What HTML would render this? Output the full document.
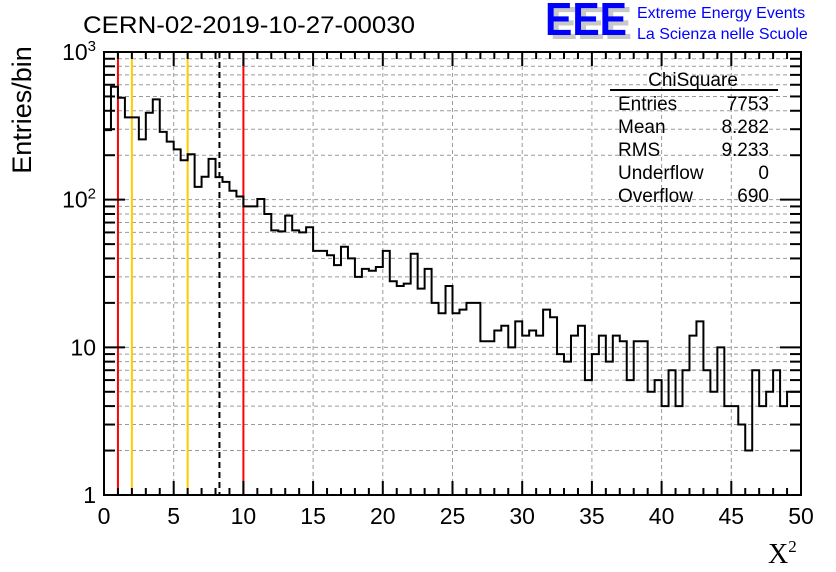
<!DOCTYPE html>
<html><head><meta charset="utf-8"><style>
html,body{margin:0;padding:0;background:#fff;}
svg{display:block;font-family:"Liberation Sans",sans-serif;}
</style></head><body>
<svg id="chart" width="836" height="572" viewBox="0 0 836 572" xmlns="http://www.w3.org/2000/svg">
<rect width="836" height="572" fill="#fff"/>
<g id="grid"></g>
<g id="vlines"></g>
<path id="hist" fill="none" stroke="#000" stroke-width="2"/>
<rect x="104" y="52" width="697" height="443" fill="none" stroke="#000" stroke-width="2"/>
<g id="ticks"></g>
<g id="labels" font-size="23"></g>
<text x="83" y="33" font-size="24" textLength="332" lengthAdjust="spacingAndGlyphs">CERN-02-2019-10-27-00030</text>
<text transform="translate(31,110) rotate(-90)" text-anchor="middle" font-size="27">Entries/bin</text>
<text x="768" y="563" font-size="28" font-family="Liberation Serif,serif">X<tspan font-size="17" dy="-11">2</tspan></text>
<g>
<text x="550" y="39" font-size="46" font-weight="bold" fill="#c8c8c8" textLength="82" lengthAdjust="spacingAndGlyphs">EEE</text>
<text x="545" y="35" font-size="46" font-weight="bold" fill="#0000ff" textLength="82" lengthAdjust="spacingAndGlyphs">EEE</text>
<text x="637" y="18" font-size="16" fill="#0000ff">Extreme Energy Events</text>
<text x="637" y="39" font-size="16" fill="#0000ff">La Scienza nelle Scuole</text>
</g>
<g font-size="19">
<text x="693" y="86" text-anchor="middle">ChiSquare</text>
<line x1="610" y1="90" x2="778" y2="90" stroke="#000" stroke-width="2"/>
<text x="618" y="110">Entries</text><text x="769" y="110" text-anchor="end">7753</text>
<text x="618" y="133">Mean</text><text x="769" y="133" text-anchor="end">8.282</text>
<text x="618" y="156">RMS</text><text x="769" y="156" text-anchor="end">9.233</text>
<text x="618" y="179">Underflow</text><text x="769" y="179" text-anchor="end">0</text>
<text x="618" y="202">Overflow</text><text x="769" y="202" text-anchor="end">690</text>
</g>
</svg>
<script>
const binEdgesStart = [0];
const binWidth = [0.5];
const counts = [296,582,490,361,361,256,388,478,288,247,219,185,203,122,143,189,142,132,115,105,
90,90,101,80,62,61,78,62,60,65,45,45,42,36,48,40,30,34,33,35,
45,28,26,27,43,25,34,20,17,26,17,18,20,20,11,11,13,14,10,15,
12,13,12,18,16,9,8,12,14,6,9,12,8,12,11,6,11,11,5,6,
4,7,4,7,12,15,7,5,10,4,4,3,2,7,4,5,7,4,5,5];
const xTicks = [0,5,10,15,20,25,30,35,40,45,50];
const yTicks = [1,10,100,1000];
const yTickLabels = ["1","10","10²","10³"];
const markerLines = [1,2,6,10];
const markerColors = ["#ff0000","#ffcc00","#ffcc00","#ff0000"];
const meanValue = [8.282];

const X0=104,X1=801,Y0=495,Y1=52;
const xs = v => X0 + (v-0)/(50-0)*(X1-X0);
const ys = v => Y0 - Math.log10(v)/3*(Y0-Y1);
const NS="http://www.w3.org/2000/svg";
function mk(tag, parent, attrs){const e=document.createElementNS(NS,tag);for(const k in attrs)e.setAttribute(k,attrs[k]);document.getElementById(parent).appendChild(e);return e;}

for(const t of xTicks){ if(t===0||t===50) continue;
  const l=mk('line','grid',{x1:xs(t),x2:xs(t),y1:Y1,y2:Y0,stroke:'#9a9a9a','stroke-dasharray':'4,3','stroke-width':1});
  
  
}
for(let d=0; d<3; d++) for(let m=1;m<10;m++){ const v=m*Math.pow(10,d); if(v<=1) continue;
  const l=mk('line','grid',{x1:X0,x2:X1,y1:ys(v),y2:ys(v),stroke:'#9a9a9a','stroke-dasharray':'4,3','stroke-width':1});
  
  
}
markerLines.forEach((v,i)=>{
  const l=mk('line','vlines',{x1:xs(v),x2:xs(v),y1:Y1,y2:Y0,stroke:markerColors[i],'stroke-width':2});
  
  
});
const ml=mk('line','vlines',{x1:xs(meanValue[0]),x2:xs(meanValue[0]),y1:Y1,y2:Y0,stroke:'#000','stroke-width':2,'stroke-dasharray':'6,4'});



let d='';
counts.forEach((c,i)=>{
  const a=binEdgesStart[0]+i*binWidth[0], b=a+binWidth[0];
  const y=ys(Math.max(c,1));
  d += (i===0?`M${xs(a)},${y}`:`L${xs(a)},${y}`) + `L${xs(b)},${y}`;
});
document.getElementById('hist').setAttribute('d',d);

for(let v=0; v<=50; v+=1){
  const len = v%5===0?14:7;
  let l=mk('line','ticks',{x1:xs(v),x2:xs(v),y1:Y0,y2:Y0-len,stroke:'#000','stroke-width':2});
  
  
  l=mk('line','ticks',{x1:xs(v),x2:xs(v),y1:Y1,y2:Y1+len,stroke:'#000','stroke-width':2});
  
  
}
for(let dd=0; dd<3; dd++) for(let m=1;m<10;m++){ const v=m*Math.pow(10,dd);
  const len = m===1?21:11;
  let l=mk('line','ticks',{x1:X0,x2:X0+len,y1:ys(v),y2:ys(v),stroke:'#000','stroke-width':2});
  
  
  l=mk('line','ticks',{x1:X1,x2:X1-len,y1:ys(v),y2:ys(v),stroke:'#000','stroke-width':2});
  
  
}
xTicks.forEach(t=>{
  const e=mk('text','labels',{x:xs(t),y:524,'text-anchor':'middle'});
  e.textContent=String(t);
  
  
});
yTicks.forEach((t,i)=>{
  const lab=yTickLabels[i];
  const e=mk('text','labels',{x:96,y:ys(t)+8,'text-anchor':'end'});
  if(lab.length>2){ e.textContent=lab.slice(0,2); const ts=document.createElementNS(NS,'tspan'); ts.setAttribute('font-size','15'); ts.setAttribute('dy','-9'); ts.textContent=lab.endsWith('³')?'3':'2'; e.appendChild(ts); }
  else e.textContent=lab;
  
  
});
</script>
</body></html>
